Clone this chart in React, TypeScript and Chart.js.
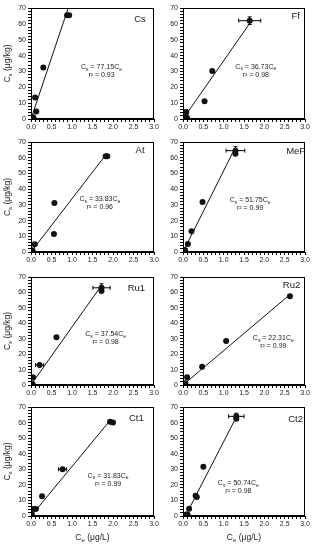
import React, { useEffect, useRef } from 'react';
import { Chart, registerables } from 'chart.js';
Chart.register(...registerables);

const FONT = '"Liberation Sans", Arial, Helvetica, sans-serif';
const INK = '#222';

// ---- data ----
const panelNames = ['Cs', 'Ff', 'At', 'MeF', 'Ru1', 'Ru2', 'Ct1', 'Ct2'];
const slopes = ['77.15', '36.73', '33.83', '51.75', '37.54', '22.31', '31.83', '50.74'];
const rSquared = ['0.93', '0.98', '0.96', '0.99', '0.98', '0.99', '0.99', '0.98'];
const xTickLabels = ['0.0', '0.5', '1.0', '1.5', '2.0', '2.5', '3.0'];
const yTickLabels = ['0', '10', '20', '30', '40', '50', '60', '70'];

// Cs
const csCe = [0.88, 0.93, 0.30, 0.10, 0.13, 0.04, 0.06];
const csCs = [65.5, 65.5, 32.5, 13.5, 4.8, 1.2, 0.8];
const csXErr = [0, 0, 0, 0, 0, 0, 0];
const csYErr = [0, 0, 0, 0, 0, 0, 0];
const csLineCe = [0.03, 0.9];
const csLineCs = [2.3, 69.4];

// Ff
const ffCe = [1.64, 0.72, 0.53, 0.08, 0.08, 0.10];
const ffCs = [62, 30.2, 11.2, 4.4, 1.3, 0.6];
const ffXErr = [0.27, 0, 0, 0.04, 0, 0];
const ffYErr = [2.4, 0, 0, 1.2, 0, 0];
const ffLineCe = [0.07, 1.66];
const ffLineCs = [2.6, 61];

// At
const atCe = [1.82, 1.86, 0.57, 0.56, 0.09, 0.02, 0.04];
const atCs = [61, 61, 31.2, 11.4, 5.0, 1.1, 0.8];
const atXErr = [0, 0, 0, 0, 0, 0, 0];
const atYErr = [0, 0, 0, 0, 0, 0, 0];
const atLineCe = [0.03, 1.8];
const atLineCs = [1, 61];

// MeF
const mefCe = [1.29, 1.29, 0.48, 0.21, 0.12, 0.05, 0.03];
const mefCs = [64.5, 62.5, 31.8, 13.2, 5.1, 1.2, 0.8];
const mefXErr = [0.23, 0, 0, 0, 0, 0, 0];
const mefYErr = [2.5, 0, 0, 0, 0, 0, 0];
const mefLineCe = [0.05, 1.27];
const mefLineCs = [2.6, 65.7];

// Ru1
const ru1Ce = [1.72, 1.72, 0.62, 0.21, 0.05, 0.02, 0.04];
const ru1Cs = [63, 61, 31, 12.9, 5, 1, 0.5];
const ru1XErr = [0.21, 0, 0, 0.1, 0.03, 0, 0];
const ru1YErr = [2.6, 0, 0, 0.8, 0.5, 0, 0];
const ru1LineCe = [0.05, 1.67];
const ru1LineCs = [2.0, 62.7];

// Ru2
const ru2Ce = [2.63, 1.06, 0.47, 0.1, 0.06, 0.04];
const ru2Cs = [57.5, 28.5, 11.9, 5, 1.2, 0.5];
const ru2XErr = [0, 0, 0, 0, 0, 0];
const ru2YErr = [0, 0, 0, 0, 0, 0];
const ru2LineCe = [0.04, 2.62];
const ru2LineCs = [0.9, 58.4];

// Ct1
const ct1Ce = [1.93, 2.0, 0.77, 0.27, 0.12, 0.06, 0.02];
const ct1Cs = [60.5, 60, 30, 12.7, 4.5, 4.5, 1];
const ct1XErr = [0, 0, 0.1, 0, 0, 0, 0];
const ct1YErr = [0, 0, 1, 0, 0, 0, 0];
const ct1LineCe = [0.02, 1.93];
const ct1LineCs = [0.6, 61.4];

// Ct2
const ct2Ce = [1.31, 1.31, 0.5, 0.31, 0.34, 0.15, 0.08, 0.11];
const ct2Cs = [64, 62.5, 31.6, 13, 12.2, 4.6, 1, 1];
const ct2XErr = [0.19, 0, 0, 0.04, 0, 0, 0, 0];
const ct2YErr = [2, 0, 0, 1, 0, 0, 0, 0];
const ct2LineCe = [0.15, 1.3];
const ct2LineCs = [4.6, 63];

// annotation anchors (data coords)
const eqCe = [1.72, 1.79, 1.68, 1.65, 1.82, 2.22, 1.88, 1.36];
const eqCs = [32.6, 32.8, 33.4, 32.9, 33, 30.3, 25.7, 21];
const nameCe = [2.66, 2.77, 2.66, 2.77, 2.57, 2.67, 2.57, 2.77];
const nameCs = [63, 64.7, 64.5, 64, 62.5, 64.6, 62.5, 62];

const allCe = [csCe, ffCe, atCe, mefCe, ru1Ce, ru2Ce, ct1Ce, ct2Ce];
const allCs = [csCs, ffCs, atCs, mefCs, ru1Cs, ru2Cs, ct1Cs, ct2Cs];
const allXErr = [csXErr, ffXErr, atXErr, mefXErr, ru1XErr, ru2XErr, ct1XErr, ct2XErr];
const allYErr = [csYErr, ffYErr, atYErr, mefYErr, ru1YErr, ru2YErr, ct1YErr, ct2YErr];
const allLineCe = [csLineCe, ffLineCe, atLineCe, mefLineCe, ru1LineCe, ru2LineCe, ct1LineCe, ct2LineCe];
const allLineCs = [csLineCs, ffLineCs, atLineCs, mefLineCs, ru1LineCs, ru2LineCs, ct1LineCs, ct2LineCs];

// ---- layout ----
const COLS = [
  { left: 0, width: 160, plotLeft: 31, plotRight: 154 },
  { left: 160, width: 157, plotLeft: 183, plotRight: 305 },
];
const ROWS = [
  { plotTop: 8, plotBottom: 119 },
  { plotTop: 142, plotBottom: 252 },
  { plotTop: 277, plotBottom: 385 },
  { plotTop: 407, plotBottom: 516 },
];
const PAGE_H = 550;
const X_AXIS_H = 14;
const TOP_PAD = 7;

type Seg = [string, boolean];

function drawRich(ctx: CanvasRenderingContext2D, segs: Seg[], x: number, y: number, size: number) {
  const sub = size * 0.72;
  const widths = segs.map(([t, s]) => {
    ctx.font = `${s ? sub : size}px ${FONT}`;
    return ctx.measureText(t).width;
  });
  const total = widths.reduce((a, b) => a + b, 0);
  let cx = x - total / 2;
  ctx.textAlign = 'left';
  ctx.textBaseline = 'middle';
  segs.forEach(([t, s], i) => {
    ctx.font = `${s ? sub : size}px ${FONT}`;
    ctx.fillText(t, cx, y + (s ? size * 0.3 : 0));
    cx += widths[i];
  });
}

function Panel({ idx }: { idx: number }) {
  const ref = useRef<HTMLCanvasElement>(null);
  const col = COLS[idx % 2];
  const rowIdx = Math.floor(idx / 2);
  const row = ROWS[rowIdx];
  const isBottom = rowIdx === ROWS.length - 1;
  const top = row.plotTop - TOP_PAD;
  const height = isBottom ? PAGE_H - top : row.plotBottom + X_AXIS_H - top;
  const bottomPad = isBottom ? PAGE_H - row.plotBottom - X_AXIS_H : 0;

  useEffect(() => {
    const ce = allCe[idx];
    const cs = allCs[idx];
    const xErr = allXErr[idx];
    const yErr = allYErr[idx];
    const lineCe = allLineCe[idx];
    const lineCs = allLineCs[idx];

    const overlay = {
      id: 'overlay',
      beforeDatasetsDraw(chart: any) {
        const { ctx, scales } = chart;
        const xs = scales.x, ys = scales.y;
        ctx.save();
        ctx.strokeStyle = '#000';
        ctx.lineWidth = 1;
        ce.forEach((v, i) => {
          const px = xs.getPixelForValue(v);
          const py = ys.getPixelForValue(cs[i]);
          if (xErr[i] > 0) {
            const a = xs.getPixelForValue(v - xErr[i]);
            const b = xs.getPixelForValue(v + xErr[i]);
            ctx.beginPath();
            ctx.moveTo(a, py); ctx.lineTo(b, py);
            ctx.moveTo(a, py - 2); ctx.lineTo(a, py + 2);
            ctx.moveTo(b, py - 2); ctx.lineTo(b, py + 2);
            ctx.stroke();
          }
          if (yErr[i] > 0) {
            const a = ys.getPixelForValue(cs[i] - yErr[i]);
            const b = ys.getPixelForValue(cs[i] + yErr[i]);
            ctx.beginPath();
            ctx.moveTo(px, a); ctx.lineTo(px, b);
            ctx.moveTo(px - 2, a); ctx.lineTo(px + 2, a);
            ctx.moveTo(px - 2, b); ctx.lineTo(px + 2, b);
            ctx.stroke();
          }
        });
        ctx.restore();
      },
      afterDraw(chart: any) {
        const { ctx, chartArea, scales } = chart;
        const xs = scales.x, ys = scales.y;
        ctx.save();
        ctx.strokeStyle = '#000';
        ctx.lineWidth = 1;
        ctx.strokeRect(chartArea.left + 0.5, chartArea.top + 0.5, chartArea.right - chartArea.left - 1, chartArea.bottom - chartArea.top - 1);
        ctx.fillStyle = INK;
        // panel name
        ctx.font = `9.5px ${FONT}`;
        ctx.textAlign = 'center';
        ctx.textBaseline = 'middle';
        ctx.fillText(panelNames[idx], xs.getPixelForValue(nameCe[idx]), ys.getPixelForValue(nameCs[idx]));
        // equation
        const ex = xs.getPixelForValue(eqCe[idx]);
        const ey = ys.getPixelForValue(eqCs[idx]);
        drawRich(ctx, [['C', false], ['s', true], [' = ' + slopes[idx] + 'C', false], ['e', true]], ex, ey, 7);
        drawRich(ctx, [['r\u00B2 = ' + rSquared[idx], false]], ex, ey + 8, 7);
        // axis titles
        if (idx % 2 === 0) {
          ctx.save();
          ctx.translate(8, (chartArea.top + chartArea.bottom) / 2);
          ctx.rotate(-Math.PI / 2);
          drawRich(ctx, [['C', false], ['s', true], [' (\u03BCg/kg)', false]], 0, 0, 8.5);
          ctx.restore();
        }
        if (isBottom) {
          drawRich(ctx, [['C', false], ['e', true], [' (\u03BCg/L)', false]], (chartArea.left + chartArea.right) / 2, chartArea.bottom + 22, 8.5);
        }
        ctx.restore();
      },
    };

    const chart = new Chart(ref.current as HTMLCanvasElement, {
      type: 'scatter',
      data: {
        datasets: [
          {
            data: ce.map((v, i) => ({ x: v, y: cs[i] })),
            backgroundColor: '#111',
            borderColor: '#111',
            pointRadius: 3,
            pointBorderWidth: 0,
          },
          {
            data: lineCe.map((v, i) => ({ x: v, y: lineCs[i] })),
            showLine: true,
            borderColor: '#111',
            borderWidth: 1,
            pointRadius: 0,
          } as any,
        ],
      },
      plugins: [overlay],
      options: {
        animation: false,
        responsive: false,
        devicePixelRatio: 1,
        events: [],
        layout: {
          padding: { top: TOP_PAD, left: 0, right: col.left + col.width - col.plotRight, bottom: bottomPad },
        },
        plugins: { legend: { display: false }, tooltip: { enabled: false } },
        scales: {
          x: {
            type: 'linear',
            min: 0,
            max: 3,
            afterFit: (s: any) => { s.height = X_AXIS_H; },
            grid: { drawOnChartArea: false, drawTicks: true, tickLength: 3, color: '#000' },
            border: { display: true, color: '#000' },
            ticks: {
              stepSize: 0.1,
              autoSkip: false,
              maxRotation: 0,
              padding: 1,
              color: INK,
              font: { family: FONT, size: 7 },
              callback: (v: any) => {
                const k = Math.round(Number(v) * 10);
                return k % 5 === 0 ? xTickLabels[k / 5] : '';
              },
            },
          },
          y: {
            type: 'linear',
            min: 0,
            max: 70,
            afterFit: (s: any) => { s.width = col.plotLeft - col.left; },
            grid: { drawOnChartArea: false, drawTicks: true, tickLength: 3, color: '#000' },
            border: { display: true, color: '#000' },
            ticks: {
              stepSize: 2,
              autoSkip: false,
              padding: 2,
              color: INK,
              font: { family: FONT, size: 7 },
              callback: (v: any) => {
                const k = Math.round(Number(v));
                return k % 10 === 0 ? yTickLabels[k / 10] : '';
              },
            },
          },
        },
      } as any,
    });
    return () => chart.destroy();
  }, [idx]);

  return (
    <canvas
      ref={ref}
      width={col.width}
      height={height}
      style={{ position: 'absolute', left: col.left, top, width: col.width, height }}
    />
  );
}

export default function App() {
  return (
    <div style={{ position: 'absolute', left: 0, top: 0, width: 317, height: 550, background: '#fff', overflow: 'hidden' }}>
      {panelNames.map((_, i) => (
        <Panel key={i} idx={i} />
      ))}
    </div>
  );
}
